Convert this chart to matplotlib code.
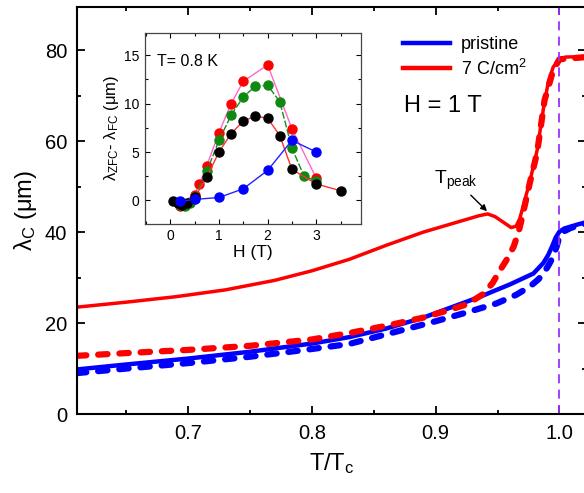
import matplotlib
matplotlib.use('Agg')
import matplotlib.pyplot as plt
from matplotlib.ticker import MultipleLocator

plt.rcParams['font.family'] = ['Liberation Sans', 'DejaVu Sans']
plt.rcParams['mathtext.fontset'] = 'custom'
plt.rcParams['mathtext.rm'] = 'Liberation Sans'
plt.rcParams['mathtext.it'] = 'Liberation Sans:italic'
plt.rcParams['mathtext.default'] = 'regular'

# main panel: lambda_C vs T/Tc
t_red_solid = [0.61, 0.65, 0.69, 0.73, 0.77, 0.80, 0.83, 0.86, 0.89, 0.91, 0.925, 0.935,
               0.942, 0.948, 0.954, 0.961, 0.965, 0.968, 0.971, 0.976, 0.982, 0.987,
               0.991, 0.995, 1.0, 1.005, 1.022]
lam_red_solid = [23.5, 24.6, 25.8, 27.3, 29.4, 31.5, 34.0, 37.1, 40.0, 41.6, 42.8, 43.6,
                 44.0, 43.4, 42.3, 41.0, 41.3, 43.0, 46.0, 51.0, 58.0, 67.0,
                 73.0, 76.3, 78.0, 78.5, 78.6]

t_red_dash = [0.61, 0.65, 0.70, 0.75, 0.80, 0.83, 0.86, 0.89, 0.91, 0.925, 0.938, 0.946,
              0.952, 0.958, 0.963, 0.967, 0.970, 0.976, 0.982, 0.988, 0.995, 1.0, 1.022]
lam_red_dash = [12.8, 13.4, 14.1, 15.0, 16.4, 17.8, 19.4, 21.2, 22.8, 24.1, 26.3, 28.8,
                31.6, 34.2, 36.8, 40.0, 43.4, 50.7, 57.5, 69.0, 75.6, 78.0, 78.5]

t_blue_solid = [0.61, 0.65, 0.70, 0.75, 0.80, 0.83, 0.86, 0.89, 0.91, 0.936, 0.96, 0.979,
                0.987, 0.991, 0.994, 0.997, 1.0, 1.004, 1.009, 1.015, 1.022]
lam_blue_solid = [9.8, 10.9, 12.2, 13.7, 15.5, 16.9, 18.8, 21.2, 23.2, 25.8, 28.5, 30.9,
                  33.2, 35.0, 36.8, 38.8, 40.1, 40.8, 41.2, 41.7, 42.2]

t_blue_dash = [0.61, 0.65, 0.70, 0.75, 0.80, 0.83, 0.868, 0.90, 0.922, 0.949, 0.965, 0.976,
               0.983, 0.987, 0.991, 0.995, 0.998, 1.0, 1.004, 1.009, 1.015, 1.022]
lam_blue_dash = [9.0, 10.0, 11.2, 12.6, 14.3, 15.4, 18.1, 20.4, 22.1, 24.3, 26.2, 28.0,
                 29.6, 30.9, 32.6, 34.6, 37.0, 39.0, 40.2, 40.9, 41.4, 41.9]

# inset: lambda_ZFC - lambda_FC vs H at T = 0.8 K
h_red = [0.2, 0.3, 0.4, 0.5, 0.6, 0.75, 1.0, 1.25, 1.5, 2.0, 2.5, 3.0]
d_red = [-0.6, -0.4, -0.2, 0.6, 1.7, 3.6, 7.0, 10.0, 12.3, 14.0, 7.4, 2.3]
h_green = [0.2, 0.3, 0.4, 0.5, 0.75, 1.0, 1.25, 1.5, 1.75, 2.0, 2.25, 2.5, 2.75, 3.0]
d_green = [-0.5, -0.6, -0.3, 0.4, 3.0, 6.2, 8.8, 10.7, 11.8, 11.9, 10.2, 5.4, 2.5, 2.0]
h_black = [0.05, 0.15, 0.25, 0.35, 0.5, 0.75, 1.0, 1.25, 1.5, 1.75, 2.0, 2.25, 2.5, 3.0, 3.5]
d_black = [-0.1, -0.3, -0.5, -0.3, 0.3, 2.4, 5.0, 6.9, 8.2, 8.7, 8.5, 6.7, 3.2, 1.7, 1.0]
h_blue = [0.2, 0.5, 1.0, 1.5, 2.0, 2.5, 3.0]
d_blue = [-0.1, 0.1, 0.3, 1.2, 3.1, 6.2, 5.0]

fig = plt.figure(figsize=(5.84, 4.93), dpi=100)
ax = fig.add_axes([0.1318, 0.1602, 0.8716, 0.8256])

ax.plot(t_blue_solid, lam_blue_solid, color='#0000ff', lw=3.2, label='pristine')
ax.plot(t_red_solid, lam_red_solid, color='#ff0000', lw=2.5, label='7 C/cm$^2$')
ax.plot(t_red_dash, lam_red_dash, color='#ff0000', lw=4.5, dashes=(1.5, 1.9),
        dash_capstyle='round')
ax.plot(t_blue_dash, lam_blue_dash, color='#0000ff', lw=4.5, dashes=(1.5, 1.9),
        dash_capstyle='round')
ax.axvline(1.0, color='#9b30ff', lw=1.3, dashes=(5, 3.5))

ax.set_xlim(0.61, 1.0215)
ax.set_ylim(0, 89.5)
ax.xaxis.set_major_locator(MultipleLocator(0.1))
ax.xaxis.set_minor_locator(MultipleLocator(0.05))
ax.yaxis.set_major_locator(MultipleLocator(20))
ax.yaxis.set_minor_locator(MultipleLocator(10))
ax.tick_params(which='both', direction='in', top=True, right=True, width=1.3, labelsize=14.5)
ax.tick_params(which='major', length=5.5, pad=7)
ax.tick_params(which='minor', length=3)
for s in ax.spines.values():
    s.set_linewidth(1.5)
ax.set_xlabel('T/T$_c$', fontsize=17, labelpad=6)
ax.set_ylabel('λ$_C$ (μm)', fontsize=17, labelpad=4)

leg = ax.legend(loc='upper left', bbox_to_anchor=(0.627, 0.946), frameon=False, fontsize=13,
                handlelength=2.6, handletextpad=0.6, labelspacing=0.3, borderaxespad=0)
for ln in leg.get_lines():
    ln.set_linewidth(3.2)
ax.text(0.643, 0.757, 'H = 1 T', transform=ax.transAxes, fontsize=17, va='center')

ax.annotate('T$_{peak}$', xy=(0.9415, 44.6), xytext=(0.899, 50.5), fontsize=14,
            arrowprops=dict(arrowstyle='-|>', color='black', lw=1, mutation_scale=9,
                            shrinkA=0, shrinkB=0))

# inset
ins = fig.add_axes([0.2483, 0.5464, 0.3699, 0.3867])
ins.plot(h_red, d_red, color='#ff66cc', lw=1, marker='o', ms=6.5, mfc='#ff0000', mec='#ff0000')
ins.plot(h_green, d_green, color='#1a8a1a', lw=1, ls=(0, (5, 1.5)), marker='o', ms=6.5,
         mfc='#118811', mec='#118811')
ins.plot(h_black, d_black, color='#ff3030', lw=1, marker='o', ms=6.5, mfc='black', mec='black')
ins.plot(h_blue, d_blue, color='#2222ff', lw=1, marker='o', ms=6.5, mfc='#0000ff', mec='#0000ff')
ins.set_xlim(-0.52, 3.92)
ins.set_ylim(-2.4, 17.3)
ins.xaxis.set_major_locator(MultipleLocator(1))
ins.xaxis.set_minor_locator(MultipleLocator(0.5))
ins.yaxis.set_major_locator(MultipleLocator(5))
ins.yaxis.set_minor_locator(MultipleLocator(2.5))
ins.tick_params(which='both', direction='in', top=True, right=True, width=0.8, labelsize=10)
ins.tick_params(which='major', length=3.5, pad=4)
ins.tick_params(which='minor', length=2)
for s in ins.spines.values():
    s.set_linewidth(0.9)
    s.set_color('#444444')
ins.set_xlabel('H (T)', fontsize=12.5, labelpad=1)
ins.set_ylabel('λ$_{ZFC}$- λ$_{FC}$ (μm)', fontsize=12, labelpad=2)
ins.text(0.055, 0.852, 'T= 0.8 K', transform=ins.transAxes, fontsize=11.5, va='center')

fig.savefig('out.png', dpi=100)
